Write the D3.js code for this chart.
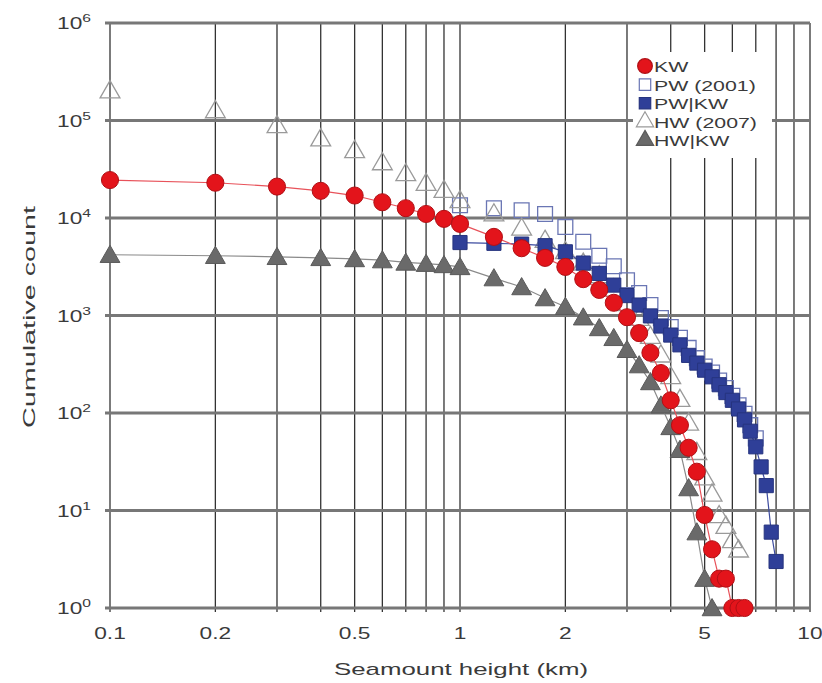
<!DOCTYPE html>
<html>
<head>
<meta charset="utf-8">
<title>Seamount cumulative count</title>
<script src="https://cdn.jsdelivr.net/npm/d3@7/dist/d3.min.js"></script>
<style>
  body { margin: 0; background: #fff; }
  svg text { font-family: "Liberation Sans", Arial, Helvetica, sans-serif; fill: #3a3a3a; }
</style>
</head>
<body>
<svg id="chart" width="822" height="683"></svg>
<script>
// ---- data ----
var kwX = [0.1,0.2,0.3,0.4,0.5,0.6,0.7,0.8,0.9,1.0,1.25,1.5,1.75,2.0,2.25,2.5,2.75,3.0,3.25,3.5,3.75,4.0,4.25,4.5,4.75,5.0,5.25,5.5,5.75,6.0,6.25,6.5];
var kwY = [24500,23000,21000,19000,17000,14500,12600,11000,9800,8700,6400,4900,3900,3150,2360,1830,1350,960,660,415,257,135,75,44,25,9,4,2,2,1,1,1];

var pwX = [1.0,1.25,1.5,1.75,2.0,2.25,2.5,2.75,3.0,3.25,3.5,3.75,4.0,4.25,4.5,4.75,5.0,5.25,5.5,5.75,6.0,6.25,6.5,6.75,7.0];
var pwY = [13500,12600,12000,11000,8100,5700,4100,3200,2300,1700,1280,940,760,590,465,365,300,260,215,180,150,120,98,75,55];

var pwkwX = [1.0,1.25,1.5,1.75,2.0,2.25,2.5,2.75,3.0,3.25,3.5,3.75,4.0,4.25,4.5,4.75,5.0,5.25,5.5,5.75,6.0,6.25,6.5,6.75,7.0,7.25,7.5,7.75,8.0];
var pwkwY = [5600,5500,5400,5200,4500,3450,2700,2050,1600,1280,990,780,630,500,390,325,275,235,195,162,135,110,85,65,45,28,18,6,3];

var hwX = [0.1,0.2,0.3,0.4,0.5,0.6,0.7,0.8,0.9,1.0,1.25,1.5,1.75,2.0,2.25,2.5,2.75,3.0,3.25,3.5,3.75,4.0,4.25,4.5,4.75,5.0,5.25,5.5,5.75,6.0,6.25];
var hwY = [205000,128000,90000,66000,50000,37500,29000,23000,19500,15300,11200,8000,6000,4600,3500,2600,1900,1350,950,620,400,240,140,80,40,22,15,9,7,5,4];

var hwkwX = [0.1,0.2,0.3,0.4,0.5,0.6,0.7,0.8,0.9,1.0,1.25,1.5,1.75,2.0,2.25,2.5,2.75,3.0,3.25,3.5,3.75,4.0,4.25,4.5,4.75,5.0,5.25];
var hwkwY = [4200,4100,4000,3900,3800,3700,3500,3400,3300,3150,2420,1960,1510,1230,960,745,590,445,310,208,120,72,42,17,6,2,1];

var xTickLabels = [0.1, 0.2, 0.5, 1, 2, 5, 10];
var xGrid = [0.1,0.2,0.3,0.4,0.5,0.6,0.7,0.8,0.9,1,2,3,4,5,6,7,8,9,10];
var yDecades = [1, 10, 100, 1000, 10000, 100000, 1000000];
var legendNames = ["KW", "PW (2001)", "PW|KW", "HW (2007)", "HW|KW"];

// the original lettering is wide, so text gets stretched sideways
var stretch = 1.42;

// ---- scales ----
var svg = d3.select("#chart");
var x = d3.scaleLog().domain([0.1, 10]).range([110, 810]);
var y = d3.scaleLog().domain([1, 1e6]).range([608, 23]);

// gridlines
var grid = svg.append("g");
grid.selectAll("line.v")
  .data(xGrid)
  .enter().append("line")
  .attr("class", "v")
  .attr("x1", function (d) { return x(d); })
  .attr("x2", function (d) { return x(d); })
  .attr("y1", y(1e6))
  .attr("y2", y(1) + 4)
  .attr("stroke", "#333")
  .attr("stroke-width", 1.3);

grid.selectAll("line.h")
  .data(yDecades)
  .enter().append("line")
  .attr("class", "h")
  .attr("x1", x(0.1) - 5)
  .attr("x2", x(10))
  .attr("y1", function (d) { return y(d); })
  .attr("y2", function (d) { return y(d); })
  .attr("stroke", "#777")
  .attr("stroke-width", 2.8);

// legend background hides gridlines behind it
svg.append("rect")
  .attr("x", 633).attr("y", 52)
  .attr("width", 139).attr("height", 106)
  .attr("fill", "#fff");

// y tick labels 10^n
var yl = svg.append("g").selectAll("text")
  .data(yDecades)
  .enter().append("text")
  .attr("transform", function (d) {
    return "translate(91," + (y(d) + 6) + ") scale(" + stretch + ",1)";
  })
  .attr("text-anchor", "end")
  .attr("font-size", "16px");
yl.append("tspan").text("10");
yl.append("tspan")
  .attr("dy", "-7")
  .attr("font-size", "11px")
  .text(function (d) { return Math.round(Math.log10(d)); });

// x tick labels
svg.append("g").selectAll("text")
  .data(xTickLabels)
  .enter().append("text")
  .attr("transform", function (d) {
    return "translate(" + x(d) + ",639) scale(" + stretch + ",1)";
  })
  .attr("text-anchor", "middle")
  .attr("font-size", "16px")
  .text(function (d) { return d; });

// axis titles
svg.append("text")
  .attr("x", 461).attr("y", 675)
  .attr("text-anchor", "middle")
  .attr("font-size", "17px")
  .attr("textLength", 254)
  .attr("lengthAdjust", "spacingAndGlyphs")
  .text("Seamount height (km)");

svg.append("text")
  .attr("transform", "translate(35,317) rotate(-90)")
  .attr("text-anchor", "middle")
  .attr("font-size", "17px")
  .attr("textLength", 222)
  .attr("lengthAdjust", "spacingAndGlyphs")
  .text("Cumulative count");

// ---- series ----
function pts(xs, ys) {
  return xs.map(function (v, i) { return { x: v, y: ys[i] }; });
}
var line = d3.line()
  .x(function (d) { return x(d.x); })
  .y(function (d) { return y(d.y); });

var tri = d3.symbol().type(d3.symbolTriangle);
var sq = d3.symbol().type(d3.symbolSquare);
var circ = d3.symbol().type(d3.symbolCircle);

function drawSeries(data, opt) {
  var g = svg.append("g");
  if (opt.line) {
    g.append("path")
      .datum(data)
      .attr("d", line)
      .attr("fill", "none")
      .attr("stroke", opt.line)
      .attr("stroke-width", 1.2);
  }
  g.selectAll("path.m")
    .data(data)
    .enter().append("path")
    .attr("class", "m")
    .attr("transform", function (d) {
      return "translate(" + x(d.x) + "," + (y(d.y) + (opt.dy || 0)) + ")";
    })
    .attr("d", opt.symbol)
    .attr("fill", opt.fill)
    .attr("stroke", opt.stroke)
    .attr("stroke-width", opt.sw || 1);
}

var styles = {
  "KW":        { symbol: circ.size(230)(), fill: "#e3141b", stroke: "#b01015", line: "#e8525a" },
  "PW (2001)": { symbol: sq.size(220)(), fill: "none", stroke: "#6a76b4", sw: 1.3 },
  "PW|KW":     { symbol: sq.size(200)(), fill: "#2f3f98", stroke: "#26347f", line: "#3d4ca0" },
  "HW (2007)": { symbol: tri.size(170)(), fill: "none", stroke: "#9a9a9a", sw: 1.3, dy: 2 },
  "HW|KW":     { symbol: tri.size(170)(), fill: "#6a6a6a", stroke: "#5a5a5a", line: "#8a8a8a", dy: 2 }
};

drawSeries(pts(pwX, pwY), styles["PW (2001)"]);
drawSeries(pts(hwX, hwY), styles["HW (2007)"]);
drawSeries(pts(pwkwX, pwkwY), styles["PW|KW"]);
drawSeries(pts(hwkwX, hwkwY), styles["HW|KW"]);
drawSeries(pts(kwX, kwY), styles["KW"]);

// ---- legend ----
var leg = svg.append("g").attr("transform", "translate(645,66)");
var items = leg.selectAll("g")
  .data(legendNames)
  .enter().append("g")
  .attr("transform", function (d, i) { return "translate(0," + (i * 18.6) + ")"; });

items.append("path")
  .attr("d", function (d) {
    if (d == "KW") return circ.size(170)();
    if (d == "PW (2001)" || d == "PW|KW") return sq.size(130)();
    return tri.size(130)();
  })
  .attr("fill", function (d) { return styles[d].fill; })
  .attr("stroke", function (d) { return styles[d].stroke; })
  .attr("stroke-width", 1.2);

items.append("text")
  .attr("transform", "translate(9,6) scale(" + stretch + ",1)")
  .attr("font-size", "15px")
  .text(function (d) { return d; });
</script>
</body>
</html>
